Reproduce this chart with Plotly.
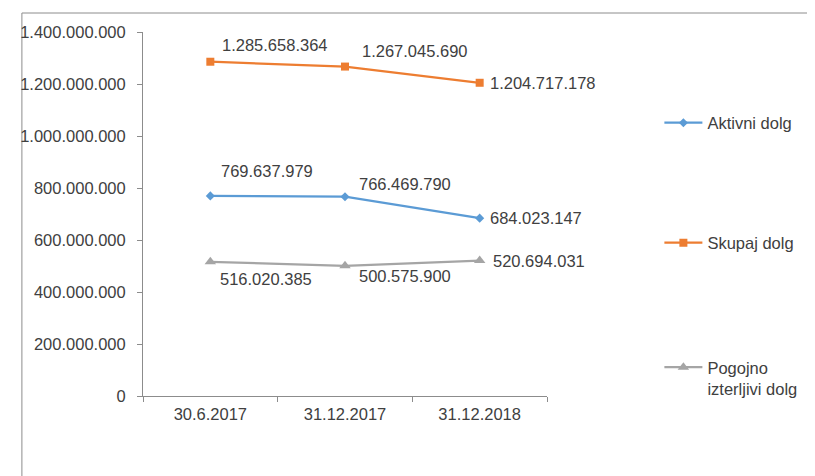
import plotly.graph_objects as go

categories = ["30.6.2017", "31.12.2017", "31.12.2018"]
aktivni = [769637979, 766469790, 684023147]
skupaj = [1285658364, 1267045690, 1204717178]
pogojno = [516020385, 500575900, 520694031]
series_names = ["Aktivni dolg", "Skupaj dolg", "Pogojno<br>izterljivi dolg"]
y_ticks = [0, 200000000, 400000000, 600000000, 800000000, 1000000000, 1200000000, 1400000000]

FONT = "Liberation Sans, Arial, sans-serif"
TXT = "#404040"
FS = 16.5
OFF = 8  # page body margin
W, H = 815 - OFF, 476 - OFF
L, R, T, B = 136 - OFF, 262, 32 - OFF, 80
PW, PH = W - L - R, H - T - B

def fmt(v):
    return f"{v:,}".replace(",", ".")

fig = go.Figure()
specs = [
    (aktivni, series_names[0], "#5B9BD5", "diamond", 7, "legend"),
    (skupaj, series_names[1], "#ED7D31", "square", 8, "legend2"),
    (pogojno, series_names[2], "#A5A5A5", "triangle-up", 10, "legend3"),
]
for vals, name, col, sym, ms, lg in specs:
    fig.add_trace(go.Scatter(
        x=categories, y=vals, name=name, mode="lines+markers",
        line=dict(color=col, width=2.25),
        marker=dict(symbol=sym, size=ms, color=col),
        legend=lg,
    ))

offsets = {
    0: [(9, 25), (12, 13), (8, 0)],
    1: [(10, 17), (15, 16), (8, 0)],
    2: [(8, -17), (12, -10), (11, 0)],
}
annotations = []
for si, vals in enumerate([aktivni, skupaj, pogojno]):
    for i, v in enumerate(vals):
        dx, dy = offsets[si][i]
        annotations.append(dict(
            x=categories[i], y=v, xref="x", yref="y", text=fmt(v),
            showarrow=False, xanchor="left", yanchor="middle",
            xshift=dx, yshift=dy, font=dict(family=FONT, size=FS, color=TXT),
        ))

# convert reference-image pixels to paper coordinates
def px_x(p):
    return (p - OFF - L) / PW

def px_y(p):
    return (H + OFF - B - p) / PH

leg_common = dict(xanchor="left", yanchor="middle", bgcolor="rgba(0,0,0,0)",
                  font=dict(family=FONT, size=FS, color=TXT), itemwidth=38)

fig.update_layout(
    width=W, height=H,
    margin=dict(l=L, r=R, t=T, b=B),
    paper_bgcolor="white", plot_bgcolor="white",
    separators=",.",
    font=dict(family=FONT, size=FS, color=TXT),
    showlegend=True,
    legend=dict(x=px_x(669), y=px_y(123), **leg_common),
    legend2=dict(x=px_x(669), y=px_y(243), **leg_common),
    legend3=dict(x=px_x(669), y=px_y(378), valign="top", **leg_common),
    annotations=annotations,
    shapes=[dict(type="rect", xref="paper", yref="paper",
                 x0=px_x(11), x1=px_x(830), y0=px_y(490), y1=px_y(13),
                 line=dict(color="#8C8C8C", width=1), fillcolor="rgba(0,0,0,0)",
                 layer="below")],
    xaxis=dict(type="category", range=[-0.5, 2.5], tickson="boundaries",
               showline=True, linecolor="#8C8C8C", linewidth=1,
               ticks="outside", ticklen=5, tickcolor="#8C8C8C",
               showgrid=False, zeroline=False, ticklabelstandoff=3,
               tickfont=dict(family=FONT, size=FS, color=TXT)),
    yaxis=dict(range=[0, 1400000000], tickvals=y_ticks, tickformat=",d",
               showline=True, linecolor="#8C8C8C", linewidth=1,
               ticks="outside", ticklen=5, tickcolor="#8C8C8C",
               showgrid=False, zeroline=False, ticklabelstandoff=8,
               tickfont=dict(family=FONT, size=FS, color=TXT)),
)

fig.write_html("out.html")
